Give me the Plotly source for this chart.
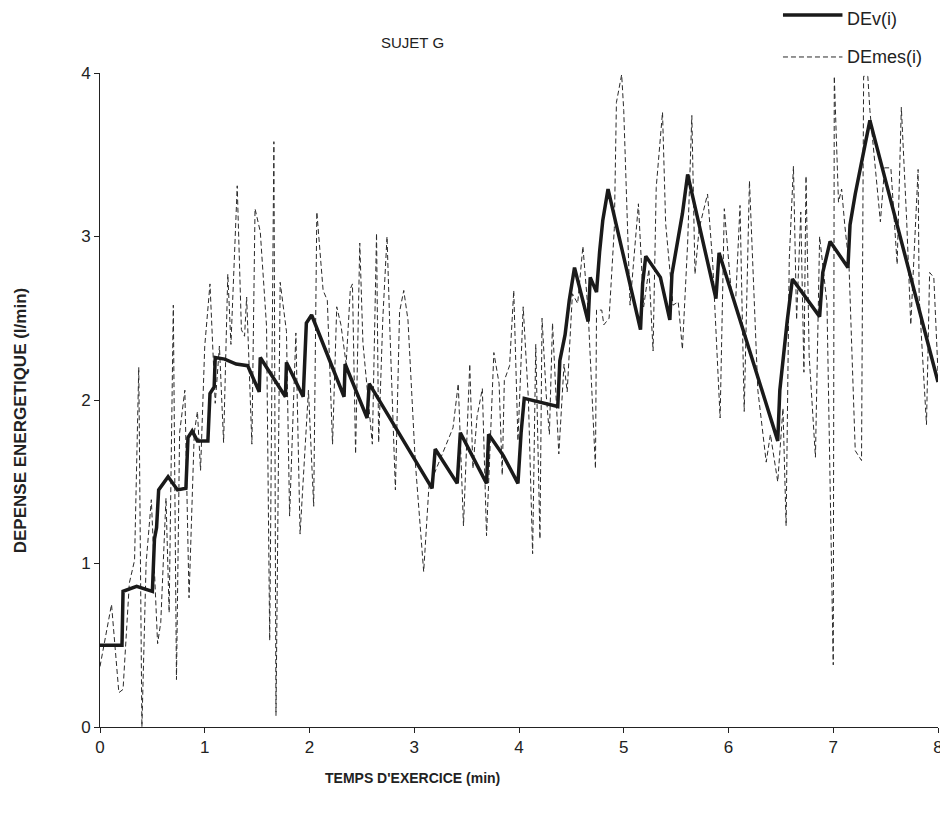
import plotly.graph_objects as go

# DEmes(i) – measured energy expenditure (dashed)
t_mes = [0.00, 0.11, 0.18, 0.22, 0.28, 0.33, 0.37, 0.40, 0.44, 0.49, 0.55, 0.58, 0.63, 0.66, 0.70,
         0.73, 0.76, 0.81, 0.85, 0.90, 0.93, 0.96, 1.00, 1.05, 1.10, 1.14, 1.18, 1.22, 1.25, 1.31,
         1.35, 1.38, 1.40, 1.45, 1.48, 1.53, 1.59, 1.62, 1.66, 1.68, 1.72, 1.78, 1.81, 1.87, 1.91,
         1.99, 2.04, 2.07, 2.13, 2.17, 2.22, 2.26, 2.30, 2.35, 2.39, 2.41, 2.44, 2.48, 2.51, 2.60,
         2.64, 2.66, 2.70, 2.74, 2.77, 2.82, 2.86, 2.90, 2.94, 3.01, 3.09, 3.14, 3.23, 3.30, 3.37,
         3.42, 3.47, 3.53, 3.56, 3.60, 3.65, 3.69, 3.76, 3.81, 3.84, 3.86, 3.91, 3.95, 3.99, 4.04,
         4.09, 4.13, 4.16, 4.20, 4.22, 4.26, 4.29, 4.32, 4.38, 4.43, 4.46, 4.51, 4.56, 4.61, 4.66,
         4.73, 4.74, 4.79, 4.81, 4.86, 4.91, 4.93, 4.98, 5.00, 5.04, 5.06, 5.14, 5.19, 5.24, 5.28,
         5.31, 5.37, 5.40, 5.43, 5.47, 5.52, 5.56, 5.61, 5.65, 5.68, 5.72, 5.80, 5.85, 5.92, 5.96,
         6.03, 6.07, 6.11, 6.15, 6.20, 6.28, 6.36, 6.40, 6.47, 6.52, 6.55, 6.58, 6.62, 6.65, 6.69,
         6.72, 6.74, 6.77, 6.83, 6.87, 6.94, 7.00, 7.01, 7.05, 7.08, 7.11, 7.15, 7.21, 7.27, 7.29,
         7.33, 7.35, 7.45, 7.49, 7.55, 7.61, 7.65, 7.70, 7.74, 7.81, 7.82, 7.89, 7.92, 7.96, 8.00]
de_mes = [0.37, 0.75, 0.21, 0.23, 0.88, 1.02, 2.20, 0.00, 1.00, 1.39, 0.51, 0.64, 1.40, 0.70, 2.58,
          0.29, 1.80, 2.06, 0.79, 1.80, 1.93, 1.57, 2.33, 2.71, 1.98, 2.33, 1.74, 2.77, 2.34, 3.31,
          2.43, 2.39, 2.63, 1.73, 3.17, 3.03, 2.45, 0.53, 3.58, 0.07, 2.72, 2.42, 1.29, 2.41, 1.18,
          2.06, 1.35, 3.15, 2.67, 2.61, 1.73, 2.57, 2.46, 2.22, 2.68, 2.71, 1.67, 2.96, 2.35, 1.73,
          3.02, 1.74, 2.50, 3.00, 2.38, 1.45, 2.54, 2.67, 2.49, 1.62, 0.95, 1.47, 1.61, 1.72, 1.83,
          2.10, 1.23, 2.22, 1.58, 1.90, 2.07, 1.17, 2.29, 2.10, 1.54, 2.12, 2.21, 2.67, 1.75, 2.57,
          2.00, 1.06, 2.34, 1.15, 2.50, 2.03, 1.79, 2.47, 1.67, 2.22, 2.05, 2.65, 2.59, 2.94, 2.54,
          1.58, 2.55, 2.55, 2.46, 2.50, 3.05, 3.82, 3.99, 3.77, 2.94, 2.58, 3.20, 2.57, 2.80, 2.30,
          3.30, 3.76, 3.08, 2.88, 2.58, 2.60, 2.31, 2.96, 3.74, 2.77, 3.05, 3.26, 2.83, 1.89, 3.17,
          2.63, 2.63, 3.19, 1.93, 3.34, 2.06, 1.62, 1.79, 1.50, 1.95, 1.23, 2.86, 3.43, 2.49, 3.15,
          2.17, 3.37, 2.27, 1.65, 3.00, 2.59, 0.38, 3.98, 3.21, 3.29, 3.07, 2.83, 1.69, 1.63, 3.98,
          3.98, 3.77, 3.09, 3.42, 3.42, 2.83, 3.79, 3.11, 2.46, 3.41, 2.63, 1.85, 2.78, 2.75, 2.17]

# DEv(i) – estimated energy expenditure (thick solid)
t_v = [0.00, 0.21, 0.22, 0.35, 0.50, 0.52, 0.54, 0.56, 0.65, 0.74, 0.82, 0.84, 0.88, 0.93, 1.03,
       1.05, 1.09, 1.10, 1.19, 1.30, 1.41, 1.52, 1.53, 1.77, 1.78, 1.94, 1.97, 2.02, 2.33, 2.34,
       2.55, 2.57, 3.17, 3.20, 3.41, 3.44, 3.69, 3.71, 3.85, 3.91, 3.99, 4.02, 4.05, 4.37, 4.39,
       4.44, 4.48, 4.53, 4.66, 4.68, 4.74, 4.77, 4.80, 4.85, 5.16, 5.18, 5.21, 5.35, 5.44, 5.46,
       5.51, 5.56, 5.61, 5.88, 5.91, 6.47, 6.49, 6.52, 6.56, 6.61, 6.87, 6.90, 6.97, 7.14, 7.16,
       7.21, 7.26, 7.30, 7.35, 8.00]
de_v = [0.50, 0.50, 0.83, 0.86, 0.83, 1.15, 1.22, 1.45, 1.53, 1.45, 1.46, 1.77, 1.81, 1.75, 1.75,
        2.04, 2.08, 2.26, 2.25, 2.22, 2.21, 2.05, 2.26, 2.02, 2.23, 2.02, 2.47, 2.52, 2.02, 2.22,
        1.89, 2.10, 1.46, 1.70, 1.49, 1.80, 1.49, 1.79, 1.66, 1.59, 1.49, 1.80, 2.01, 1.96, 2.24,
        2.40, 2.61, 2.81, 2.48, 2.75, 2.66, 2.91, 3.10, 3.29, 2.43, 2.71, 2.88, 2.75, 2.49, 2.77,
        2.95, 3.14, 3.38, 2.62, 2.90, 1.75, 2.06, 2.25, 2.48, 2.74, 2.51, 2.78, 2.97, 2.81, 3.07,
        3.26, 3.41, 3.55, 3.71, 2.11]

x_ticks = [0, 1, 2, 3, 4, 5, 6, 7, 8]
y_ticks = [0, 1, 2, 3, 4]

FONT = "Liberation Sans, Arial, sans-serif"

fig = go.Figure()
fig.add_trace(go.Scatter(x=t_mes, y=de_mes, mode="lines", name="DEmes(i)",
                         line=dict(color="#2a2a2a", width=1, dash="5px,3px"),
                         showlegend=False))
fig.add_trace(go.Scatter(x=t_v, y=de_v, mode="lines", name="DEv(i)",
                         line=dict(color="#1a1a1a", width=3.5),
                         showlegend=False))

# legend drawn manually to reproduce the long line samples
fig.add_shape(type="line", xref="paper", yref="paper", x0=0.815, x1=0.886, y0=1.0887, y1=1.0887,
              line=dict(color="#1a1a1a", width=3.5))
fig.add_shape(type="line", xref="paper", yref="paper", x0=0.815, x1=0.886, y0=1.0245, y1=1.0245,
              line=dict(color="#2a2a2a", width=1, dash="5px,3px"))
fig.add_annotation(text="DEv(i)", xref="paper", yref="paper", x=0.889, y=1.083,
                   xanchor="left", yanchor="middle", showarrow=False,
                   font=dict(family=FONT, size=18, color="#222"))
fig.add_annotation(text="DEmes(i)", xref="paper", yref="paper", x=0.889, y=1.0245,
                   xanchor="left", yanchor="middle", showarrow=False,
                   font=dict(family=FONT, size=18, color="#222"))

fig.add_annotation(text="SUJET G", xref="paper", yref="paper", x=0.3735, y=1.047,
                   xanchor="center", yanchor="middle", showarrow=False,
                   font=dict(family=FONT, size=15, color="#222"))
fig.add_annotation(text="<b>TEMPS D'EXERCICE (min)</b>", xref="paper", yref="paper",
                   x=0.3735, y=-0.078, xanchor="center", yanchor="middle", showarrow=False,
                   font=dict(family=FONT, size=14, color="#222"))
fig.add_annotation(text="<b>DEPENSE ENERGETIQUE (l/min)</b>", xref="paper", yref="paper",
                   x=-0.0955, y=0.469, xanchor="center", yanchor="middle", showarrow=False,
                   textangle=-90, font=dict(family=FONT, size=17, color="#222"))

# page body has an 8px margin: size/margins chosen so the plot area lands where it should
fig.update_layout(
    width=940, height=807,
    margin=dict(l=92, r=5, t=65, b=88),
    paper_bgcolor="white", plot_bgcolor="white",
    font=dict(family=FONT, size=17, color="#222"),
    showlegend=False,
)
fig.update_xaxes(range=[0, 8], tickvals=x_ticks, showgrid=False, zeroline=False,
                 showline=True, linecolor="#222", linewidth=1,
                 ticks="outside", ticklen=5, tickcolor="#222",
                 tickfont=dict(family=FONT, size=17, color="#222"))
fig.update_yaxes(range=[0, 4], tickvals=y_ticks, showgrid=False, zeroline=False,
                 showline=True, linecolor="#222", linewidth=1,
                 ticks="outside", ticklen=5, tickcolor="#222",
                 tickfont=dict(family=FONT, size=17, color="#222"))

fig.write_html("out.html")
